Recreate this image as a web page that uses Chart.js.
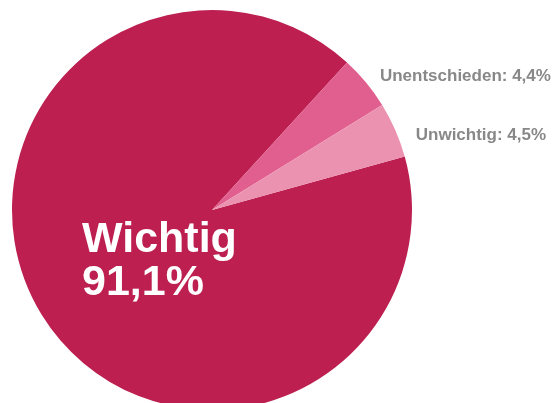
<!DOCTYPE html>
<html>
<head>
<meta charset="utf-8">
<script src="https://cdn.jsdelivr.net/npm/chart.js@4"></script>
<style>
  html, body { margin: 0; padding: 0; background: #fff; overflow: hidden; }
  #wrap { position: relative; width: 557px; height: 420px; }
</style>
</head>
<body>
<div id="wrap"><canvas id="pie"></canvas></div>
<script>
// Daten
const labels = ["Wichtig", "Unentschieden", "Unwichtig"];
const values = [91.1, 4.4, 4.5];
const valueTexts = ["91,1%", "4,4%", "4,5%"];
const colors = ["#bc1f50", "#e15f8e", "#eb92b0"];

// Beschriftungen: große Zahl im Hauptsegment, kleine graue Texte außen
const labelPlugin = {
  id: "pieLabels",
  afterDraw(chart) {
    const ctx = chart.ctx;
    const arcs = chart.getDatasetMeta(0).data;
    ctx.save();

    // Hauptsegment
    const main = arcs[0];
    ctx.fillStyle = "#ffffff";
    ctx.font = "bold 43px 'Liberation Sans', Arial, sans-serif";
    ctx.textAlign = "left";
    ctx.textBaseline = "alphabetic";
    ctx.fillText(labels[0], main.x - 130, main.y + 42);
    ctx.fillText(valueTexts[0], main.x - 130, main.y + 85);

    // kleine Segmente (leicht nachjustiert)
    const nudge = [null, [0, 0], [4, 8]];
    ctx.fillStyle = "#888888";
    ctx.font = "bold 17px 'Liberation Sans', Arial, sans-serif";
    ctx.textBaseline = "middle";
    for (let i = 1; i < arcs.length; i++) {
      const a = arcs[i];
      const mid = (a.startAngle + a.endAngle) / 2;
      const r = a.outerRadius + 18;
      const x = a.x + Math.cos(mid) * r + nudge[i][0];
      const y = a.y + Math.sin(mid) * r + 5 + nudge[i][1];
      ctx.fillText(labels[i] + ": " + valueTexts[i], x, y);
    }
    ctx.restore();
  }
};

new Chart(document.getElementById("pie"), {
  type: "pie",
  data: {
    labels: labels,
    datasets: [{
      data: values,
      backgroundColor: colors,
      borderWidth: 0
    }]
  },
  options: {
    responsive: true,
    maintainAspectRatio: false,
    animation: false,
    rotation: 74.5,
    layout: { padding: { left: 12, top: 10, right: 145, bottom: 10 } },
    plugins: {
      legend: { display: false },
      tooltip: { enabled: false }
    }
  },
  plugins: [labelPlugin]
});
</script>
</body>
</html>
